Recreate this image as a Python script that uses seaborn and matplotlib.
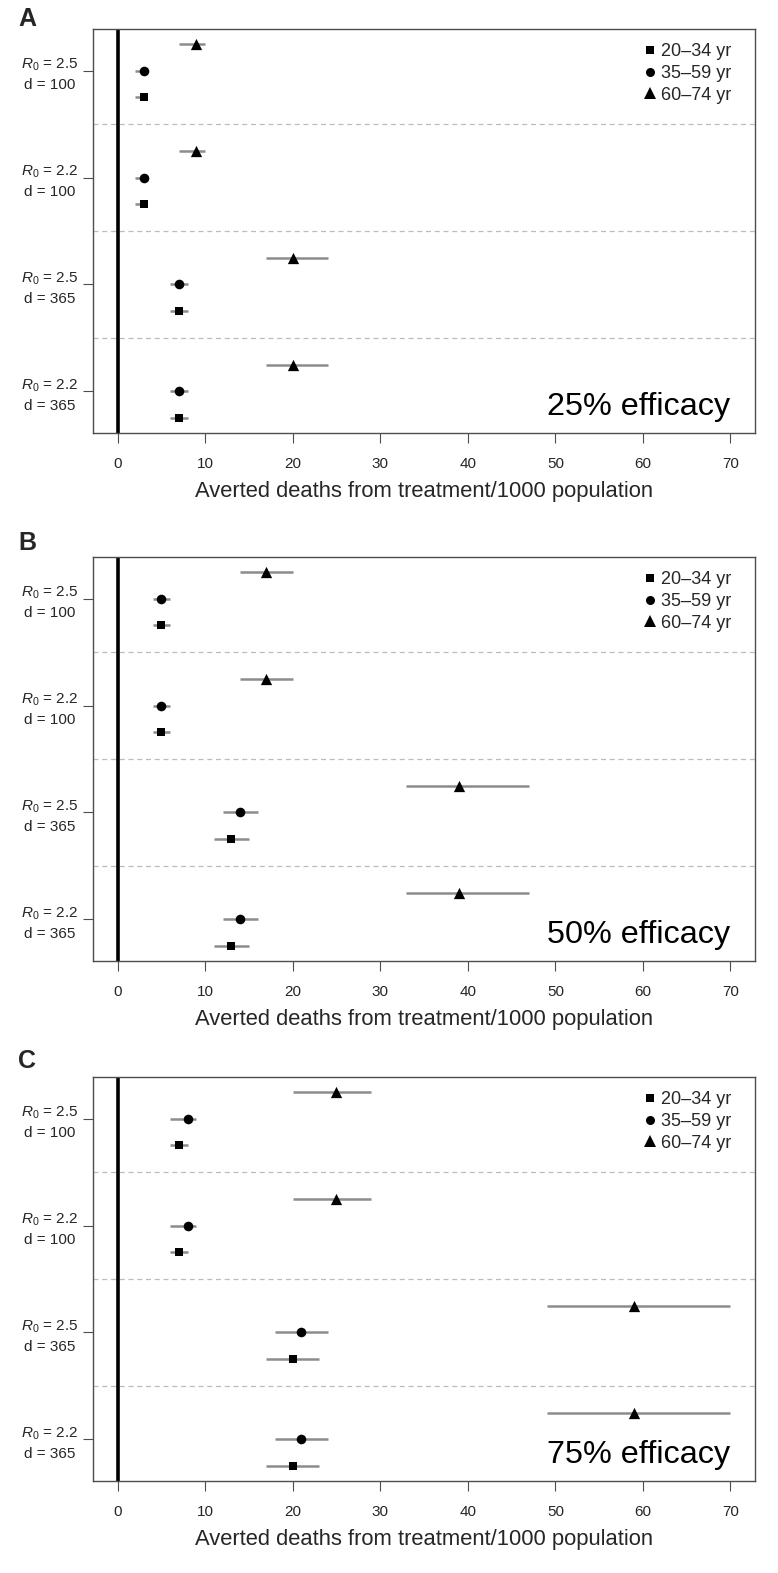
import numpy as np
import pandas as pd
import matplotlib
matplotlib.use("Agg")
import matplotlib.pyplot as plt
import seaborn as sns
from matplotlib.lines import Line2D

# ---------------- data ----------------
scenarios = ["$R_0$ = 2.5\nd = 100", "$R_0$ = 2.2\nd = 100",
             "$R_0$ = 2.5\nd = 365", "$R_0$ = 2.2\nd = 365"]
age_groups = ["20–34 yr", "35–59 yr", "60–74 yr"]
panel_letters = ["A", "B", "C"]
efficacy_labels = ["25% efficacy", "50% efficacy", "75% efficacy"]
x_ticks = [0, 10, 20, 30, 40, 50, 60, 70]
x_label = "Averted deaths from treatment/1000 population"

# rows = scenarios (top to bottom), cols = age groups (20–34, 35–59, 60–74)
eff25_mean = [[3, 3, 9], [3, 3, 9], [7, 7, 20], [7, 7, 20]]
eff25_low = [[2, 2, 7], [2, 2, 7], [6, 6, 17], [6, 6, 17]]
eff25_high = [[3.4, 3.4, 10], [3.4, 3.4, 10], [8, 8, 24], [8, 8, 24]]

eff50_mean = [[5, 5, 17], [5, 5, 17], [13, 14, 39], [13, 14, 39]]
eff50_low = [[4, 4, 14], [4, 4, 14], [11, 12, 33], [11, 12, 33]]
eff50_high = [[6, 6, 20], [6, 6, 20], [15, 16, 47], [15, 16, 47]]

eff75_mean = [[7, 8, 25], [7, 8, 25], [20, 21, 59], [20, 21, 59]]
eff75_low = [[6, 6, 20], [6, 6, 20], [17, 18, 49], [17, 18, 49]]
eff75_high = [[8, 9, 29], [8, 9, 29], [23, 24, 70], [23, 24, 70]]

panels = [(eff25_mean, eff25_low, eff25_high),
          (eff50_mean, eff50_low, eff50_high),
          (eff75_mean, eff75_low, eff75_high)]

# ---------------- style ----------------
sns.set_theme(style="white")
plt.rcParams["font.family"] = ["Liberation Sans", "DejaVu Sans"]
plt.rcParams["mathtext.fontset"] = "custom"
plt.rcParams["mathtext.rm"] = "Liberation Sans"
plt.rcParams["mathtext.it"] = "Liberation Sans:italic"
plt.rcParams["mathtext.bf"] = "Liberation Sans:bold"

markers = {"20–34 yr": "s", "35–59 yr": "o", "60–74 yr": "^"}
msizes = {"20–34 yr": 38, "35–59 yr": 48, "60–74 yr": 66}
bar_color = "#8c8c8c"
frame_color = "#4d4d4d"

W, H = 778, 1573
fig = plt.figure(figsize=(W / 100, H / 100), dpi=100)

ax_left, ax_right = 93, 755
panel_tops = [29, 557, 1077]
panel_h = 404
letter_y = [19, 543, 1061]


def build_df(mean, low, high):
    rows = []
    n = len(scenarios)
    for i, sc in enumerate(scenarios):
        base = (n - 1 - i) * 4 + 1
        for j, ag in enumerate(age_groups):
            rows.append(dict(scenario=sc, age=ag, mean=mean[i][j],
                             low=low[i][j], high=high[i][j], y=base + j))
    return pd.DataFrame(rows)


for k, (mean, low, high) in enumerate(panels):
    top = panel_tops[k]
    ax = fig.add_axes([ax_left / W, 1 - (top + panel_h) / H,
                       (ax_right - ax_left) / W, panel_h / H])
    df = build_df(mean, low, high)

    # zero reference line and separators
    ax.axvline(0, color="black", lw=2.6, zorder=1.5)
    for sep in [4, 8, 12]:
        ax.axhline(sep, color="#bdbdbd", lw=0.9, ls=(0, (4, 3)), zorder=1)

    # intervals
    ax.hlines(df["y"], df["low"], df["high"], color=bar_color, lw=1.8, zorder=2)

    # points
    for ag in age_groups:
        sub = df[df["age"] == ag]
        sns.scatterplot(data=sub, x="mean", y="y", marker=markers[ag],
                        s=msizes[ag], color="black", linewidth=0,
                        ax=ax, zorder=3, legend=False)

    ax.set_xlim(-2.8, 72.8)
    ax.set_ylim(0.44, 15.56)
    ax.set_xticks(x_ticks)
    ax.set_xticklabels([str(t) for t in x_ticks])
    tick_y = [(len(scenarios) - 1 - i) * 4 + 2 for i in range(len(scenarios))]
    ax.set_yticks(tick_y)
    ax.set_yticklabels(scenarios, fontsize=11, multialignment="center",
                       linespacing=1.45)
    ax.set_xlabel(x_label, fontsize=15.8, labelpad=7)
    ax.set_ylabel("")
    ax.tick_params(axis="x", direction="out", length=7.2, width=0.8,
                   color=frame_color, labelsize=11, pad=10, bottom=True)
    ax.tick_params(axis="y", direction="out", length=7.2, width=0.8,
                   color=frame_color, pad=3.6, left=True)
    for sp in ax.spines.values():
        sp.set_color(frame_color)
        sp.set_linewidth(1.0)
        sp.set_visible(True)

    ax.text(0.963, 0.045, efficacy_labels[k], transform=ax.transAxes,
            ha="right", va="baseline", fontsize=23.3, color="black")

    handles = [Line2D([], [], ls="none", marker=markers[ag], color="black",
                      markersize={"s": 6, "o": 6.5, "^": 8}[markers[ag]],
                      markeredgewidth=0) for ag in age_groups]
    ax.legend(handles, age_groups, loc="upper right", frameon=False,
              fontsize=13, handlelength=0.6, handletextpad=0.3,
              labelspacing=0.26, borderaxespad=0.3,
              bbox_to_anchor=(0.983, 0.996))

    fig.text(18 / W, 1 - letter_y[k] / H, panel_letters[k], fontsize=18,
             fontweight="heavy", va="center", ha="left")

fig.savefig("out.png", dpi=100, facecolor="white")
